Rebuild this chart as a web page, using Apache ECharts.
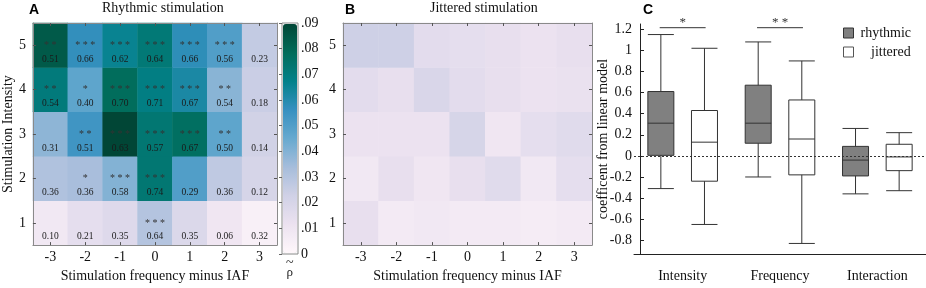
<!DOCTYPE html>
<html>
<head>
<meta charset="utf-8">
<script src="https://cdn.jsdelivr.net/npm/echarts@6/dist/echarts.min.js"></script>
<style>
html, body { margin: 0; padding: 0; background: #fff; }
#main { width: 926px; height: 288px; }
</style>
</head>
<body>
<div id="main"></div>
<script>
// heatmap axes
var freqLabels = ['-3', '-2', '-1', '0', '1', '2', '3'];
var intensityLabels = ['1', '2', '3', '4', '5'];

// rows = intensity 1..5, columns = frequency -3..3
var rhoRhythmic = [
    [0.008, 0.014, 0.017, 0.030, 0.018, 0.009, 0.004],
    [0.031, 0.033, 0.040, 0.073, 0.050, 0.027, 0.020],
    [0.038, 0.054, 0.090, 0.073, 0.077, 0.047, 0.022],
    [0.071, 0.047, 0.078, 0.069, 0.062, 0.039, 0.024],
    [0.084, 0.057, 0.066, 0.072, 0.058, 0.050, 0.026]
];
var rRhythmic = [
    ['0.10', '0.21', '0.35', '0.64', '0.35', '0.06', '0.32'],
    ['0.36', '0.36', '0.58', '0.74', '0.29', '0.36', '0.12'],
    ['0.31', '0.51', '0.63', '0.57', '0.67', '0.50', '0.14'],
    ['0.54', '0.40', '0.70', '0.71', '0.67', '0.54', '0.18'],
    ['0.51', '0.66', '0.62', '0.64', '0.66', '0.56', '0.23']
];
var starsRhythmic = [
    [0, 0, 0, 3, 0, 0, 0],
    [0, 1, 3, 3, 0, 0, 0],
    [0, 2, 3, 3, 3, 2, 0],
    [2, 1, 3, 3, 3, 2, 0],
    [2, 3, 3, 3, 3, 3, 0]
];
var rhoJittered = [
    [0.013, 0.007, 0.008, 0.007, 0.007, 0.006, 0.007],
    [0.008, 0.013, 0.009, 0.013, 0.016, 0.008, 0.014],
    [0.011, 0.011, 0.011, 0.020, 0.009, 0.014, 0.016],
    [0.015, 0.013, 0.019, 0.015, 0.013, 0.011, 0.012],
    [0.023, 0.023, 0.015, 0.014, 0.013, 0.011, 0.013]
];
var rhoMax = 0.09;
var pubugn = ['#fff7fb', '#ece2f0', '#d0d1e6', '#a6bddb', '#67a9cf', '#3690c0', '#02818a', '#016c59', '#014636'];

// boxplots: [min, Q1, median, Q3, max]
var effects = ['Intensity', 'Frequency', 'Interaction'];
var boxRhythmic = [
    [-0.31, 0.005, 0.31, 0.61, 1.15],
    [-0.20, 0.12, 0.31, 0.67, 1.08],
    [-0.36, -0.19, -0.04, 0.09, 0.26]
];
var boxJittered = [
    [-0.65, -0.24, 0.13, 0.43, 1.02],
    [-0.83, -0.18, 0.16, 0.53, 0.90],
    [-0.33, -0.14, -0.01, 0.11, 0.22]
];
var coefTicks = [-0.8, -0.6, -0.4, -0.2, 0, 0.2, 0.4, 0.6, 0.8, 1, 1.2];
var sigEffects = ['Intensity', 'Frequency'];
var sigMarks = ['*', '* *'];
var sigLevel = 1.215;

var SERIF = 'Liberation Serif';
var SANS = 'Liberation Sans';

function toCells(matrix) {
    var out = [];
    for (var r = 0; r < matrix.length; r++) {
        for (var c = 0; c < matrix[r].length; c++) {
            out.push([c, r, matrix[r][c]]);
        }
    }
    return out;
}

function starText(n) {
    if (!n) return ' ';
    var s = [];
    for (var i = 0; i < n; i++) s.push('*');
    return s.join(' ');
}

// 4 axes per heatmap: bottom/top x, left/right y (matlab box with inner ticks)
function heatX(grid, pos, name) {
    return {
        type: 'category', gridIndex: grid, data: freqLabels, position: pos, z: 5,
        axisLine: {show: true, onZero: false, lineStyle: {color: '#8a8a8a', width: 1}},
        axisTick: {show: true, inside: true, alignWithLabel: true, length: 3, lineStyle: {color: '#555'}},
        axisLabel: {show: pos === 'bottom', margin: 5, fontFamily: SERIF, fontSize: 14, color: '#111'},
        name: pos === 'bottom' ? name : '', nameLocation: 'middle', nameGap: 22,
        nameTextStyle: {fontFamily: SERIF, fontSize: 14, color: '#111'},
        splitLine: {show: false}
    };
}
function heatY(grid, pos, name) {
    return {
        type: 'category', gridIndex: grid, data: intensityLabels, position: pos, z: 5,
        axisLine: {show: true, lineStyle: {color: '#8a8a8a', width: 1}},
        axisTick: {show: true, inside: true, alignWithLabel: true, length: 3, lineStyle: {color: '#555'}},
        axisLabel: {show: pos === 'left', margin: 7, fontFamily: SERIF, fontSize: 14, color: '#111'},
        name: pos === 'left' ? name : '', nameLocation: 'middle', nameGap: 16, nameRotate: 90,
        nameTextStyle: {fontFamily: SERIF, fontSize: 14, color: '#111'},
        splitLine: {show: false}
    };
}

var chart = echarts.init(document.getElementById('main'), null, {renderer: 'canvas'});

var gridCLeft = 634, gridCWidth = 307;

var option = {
    animation: false,
    backgroundColor: '#fff',
    title: [
        {text: 'A', left: 29, top: 3, padding: 0, textStyle: {fontFamily: SANS, fontWeight: 'bold', fontSize: 14, color: '#000'}},
        {text: 'Rhythmic stimulation', left: 102, top: 1, padding: 0, textStyle: {fontFamily: SERIF, fontWeight: 'normal', fontSize: 14, color: '#111'}},
        {text: 'B', left: 345, top: 3, padding: 0, textStyle: {fontFamily: SANS, fontWeight: 'bold', fontSize: 14, color: '#000'}},
        {text: 'Jittered stimulation', left: 430, top: 1, padding: 0, textStyle: {fontFamily: SERIF, fontWeight: 'normal', fontSize: 14, color: '#111'}},
        {text: 'C', left: 643, top: 3, padding: 0, textStyle: {fontFamily: SANS, fontWeight: 'bold', fontSize: 14, color: '#000'}},
        {
            text: '{t|~}\n{r|ρ}', left: 286, top: 260, padding: 0,
            textStyle: {
                rich: {
                    t: {fontFamily: SERIF, fontSize: 14, fontWeight: 'normal', color: '#222', lineHeight: 6, align: 'center'},
                    r: {fontFamily: SERIF, fontSize: 13, fontWeight: 'normal', color: '#222', lineHeight: 13, align: 'center'}
                }
            }
        }
    ],
    grid: [
        {left: 28, top: 23, width: 249, height: 231},
        {left: 343, top: 23, width: 249, height: 231},
        {left: gridCLeft, top: 24, width: gridCWidth, bottom: 34},
        {left: 282, top: 23, width: 16, height: 231, show: true, borderColor: '#888', borderWidth: 1, backgroundColor: 'transparent'}
    ],
    xAxis: [
        heatX(0, 'bottom', 'Stimulation frequency minus IAF'),
        heatX(0, 'top'),
        heatX(1, 'bottom', 'Stimulation frequency minus IAF'),
        heatX(1, 'top'),
        {
            type: 'category', gridIndex: 2, data: effects,
            axisLine: {show: true, onZero: false, lineStyle: {color: '#222'}},
            axisTick: {show: false},
            axisLabel: {margin: 15, fontFamily: SERIF, fontSize: 14, color: '#111'},
            splitLine: {show: false}
        },
        {type: 'value', gridIndex: 3, show: false}
    ],
    yAxis: [
        heatY(0, 'left', 'Stimulation Intensity'),
        heatY(0, 'right'),
        heatY(1, 'left', ''),
        heatY(1, 'right'),
        {
            type: 'value', gridIndex: 2, min: -0.93, max: 1.25, offset: -6,
            name: 'coefficent from linear model', nameLocation: 'middle', nameGap: 30, nameRotate: 90,
            nameMoveOverlap: false,
            nameTextStyle: {fontFamily: SERIF, fontSize: 14, color: '#111'},
            axisLine: {show: true, onZero: false, lineStyle: {color: '#222'}},
            axisTick: {show: true, inside: true, length: 4, customValues: coefTicks, lineStyle: {color: '#222'}},
            axisLabel: {margin: 8, customValues: coefTicks, fontFamily: SERIF, fontSize: 14, color: '#111'},
            splitLine: {show: false}
        },
        {
            type: 'value', gridIndex: 3, position: 'right', min: 0, max: rhoMax, interval: 0.01,
            axisLine: {show: false},
            axisTick: {show: true, inside: true, length: 3, lineStyle: {color: '#666'}},
            axisLabel: {
                margin: 3, fontFamily: SERIF, fontSize: 14, color: '#111',
                formatter: function (v) { return v === 0 ? '0' : v.toFixed(2).replace(/^0/, ''); }
            },
            splitLine: {show: false}
        }
    ],
    visualMap: {
        type: 'continuous', min: 0, max: rhoMax, seriesIndex: [0, 1],
        left: 283, top: 24, itemWidth: 14, itemHeight: 229, padding: 0,
        calculable: false, showLabel: false, text: null,
        inRange: {color: pubugn}
    },
    legend: {
        data: [
            {name: 'rhythmic', itemStyle: {color: '#808080', borderColor: '#333', borderWidth: 1}},
            {name: 'jittered', itemStyle: {color: '#ffffff', borderColor: '#555', borderWidth: 1}}
        ],
        orient: 'vertical', left: 843, top: 26, padding: 0,
        itemWidth: 10, itemHeight: 10, itemGap: 5, icon: 'rect',
        formatter: function (name) { return name === 'jittered' ? '   jittered' : name; },
        textStyle: {fontFamily: SERIF, fontSize: 14, color: '#111', padding: [0, 0, 0, 2]}
    },
    series: [
        {
            name: 'rho rhythmic', type: 'heatmap', xAxisIndex: 0, yAxisIndex: 0,
            data: toCells(rhoRhythmic), emphasis: {disabled: true},
            label: {
                show: true, offset: [0, 7],
                formatter: function (p) {
                    var c = p.value[0], r = p.value[1];
                    return '{s|' + starText(starsRhythmic[r][c]) + '}\n{v|' + rRhythmic[r][c] + '}';
                },
                rich: {
                    s: {fontFamily: SERIF, fontSize: 10, color: '#333', lineHeight: 14},
                    v: {fontFamily: SERIF, fontSize: 9.5, color: '#1a1a1a', lineHeight: 14}
                }
            }
        },
        {
            name: 'rho jittered', type: 'heatmap', xAxisIndex: 2, yAxisIndex: 2,
            data: toCells(rhoJittered), emphasis: {disabled: true}
        },
        {
            name: 'rhythmic', type: 'boxplot', xAxisIndex: 4, yAxisIndex: 4,
            data: boxRhythmic, boxWidth: [26, 26],
            itemStyle: {color: '#808080', borderColor: '#333', borderWidth: 1},
            emphasis: {disabled: true},
            markLine: {
                silent: true, symbol: 'none', label: {show: false},
                lineStyle: {type: [2, 2], color: '#333', width: 1},
                data: [{yAxis: 0}]
            }
        },
        {
            name: 'jittered', type: 'boxplot', xAxisIndex: 4, yAxisIndex: 4,
            data: boxJittered, boxWidth: [26, 26],
            itemStyle: {color: '#ffffff', borderColor: '#333', borderWidth: 1},
            emphasis: {disabled: true}
        }
    ]
};

chart.setOption(option);

// significance brackets between the two boxes of a group
var band = gridCWidth / effects.length;
var avail = band * 0.8 - 2;
var half = 0.2875 * avail;
var graphics = [];
sigEffects.forEach(function (eff, i) {
    var cx = chart.convertToPixel({xAxisIndex: 4}, eff);
    var y = chart.convertToPixel({yAxisIndex: 4}, sigLevel);
    graphics.push({
        type: 'line', silent: true,
        shape: {x1: cx - half, y1: y, x2: cx + half, y2: y},
        style: {stroke: '#333', lineWidth: 1}
    });
    graphics.push({
        type: 'text', silent: true, x: cx, y: y - 5,
        style: {text: sigMarks[i], fontFamily: SERIF, fontSize: 13, fill: '#333', align: 'center', verticalAlign: 'middle'}
    });
});
chart.setOption({graphic: graphics});
</script>
</body>
</html>
